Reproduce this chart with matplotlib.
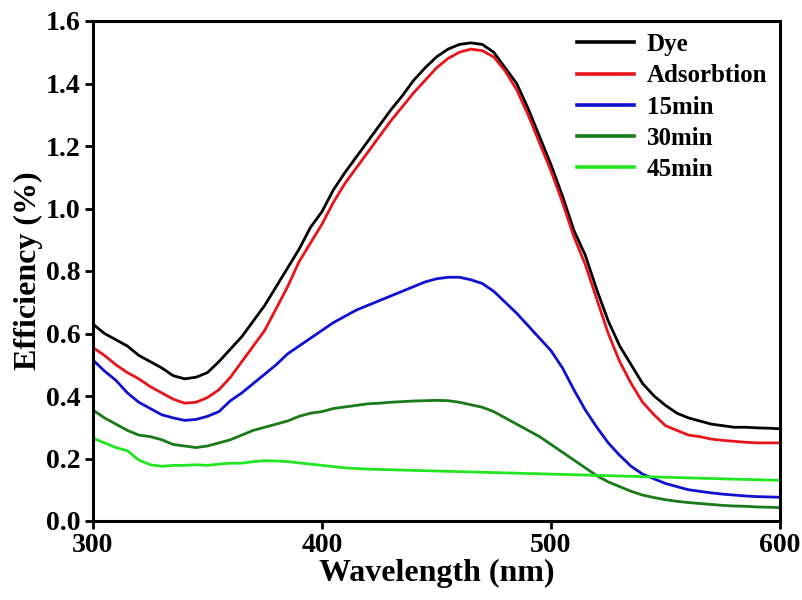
import matplotlib
matplotlib.use("Agg")
import matplotlib.pyplot as plt

wavelength = list(range(300, 605, 5))

dye = [0.63, 0.60, 0.58, 0.56, 0.53, 0.51, 0.49, 0.465, 0.455, 0.46,
       0.475, 0.51, 0.55, 0.59, 0.64, 0.69, 0.75, 0.81, 0.87, 0.94,
       0.99, 1.06, 1.115, 1.165, 1.215, 1.265, 1.315, 1.36, 1.41, 1.45,
       1.485, 1.51, 1.525, 1.53, 1.525, 1.50, 1.45, 1.40, 1.32, 1.23,
       1.14, 1.04, 0.93, 0.85, 0.74, 0.64, 0.56, 0.50, 0.44, 0.40,
       0.37, 0.345, 0.33, 0.32, 0.31, 0.305, 0.30, 0.30, 0.298, 0.297, 0.295]

adsorbtion = [0.555, 0.53, 0.50, 0.475, 0.455, 0.43, 0.41, 0.39, 0.377, 0.38,
              0.395, 0.42, 0.46, 0.51, 0.56, 0.61, 0.68, 0.75, 0.83, 0.89,
              0.95, 1.02, 1.08, 1.13, 1.18, 1.23, 1.28, 1.325, 1.37, 1.41,
              1.45, 1.48, 1.50, 1.51, 1.505, 1.485, 1.44, 1.38, 1.30, 1.21,
              1.12, 1.02, 0.91, 0.82, 0.71, 0.60, 0.51, 0.44, 0.38, 0.34,
              0.305, 0.29, 0.275, 0.27, 0.262, 0.258, 0.255, 0.252, 0.25, 0.25, 0.25]

min15 = [0.515, 0.48, 0.45, 0.41, 0.38, 0.36, 0.34, 0.33, 0.322, 0.325,
         0.335, 0.35, 0.385, 0.41, 0.44, 0.47, 0.50, 0.535, 0.56, 0.585,
         0.61, 0.635, 0.655, 0.675, 0.69, 0.705, 0.72, 0.735, 0.75, 0.765,
         0.775, 0.78, 0.78, 0.772, 0.76, 0.735, 0.70, 0.665, 0.625, 0.585,
         0.545, 0.49, 0.42, 0.355, 0.30, 0.25, 0.21, 0.175, 0.15, 0.135,
         0.12, 0.11, 0.10, 0.095, 0.09, 0.086, 0.083, 0.08, 0.078, 0.077, 0.076]

min30 = [0.355, 0.33, 0.31, 0.29, 0.275, 0.27, 0.26, 0.245, 0.24, 0.235,
         0.24, 0.25, 0.26, 0.275, 0.29, 0.30, 0.31, 0.32, 0.335, 0.345,
         0.35, 0.36, 0.365, 0.37, 0.375, 0.377, 0.38, 0.382, 0.384, 0.385,
         0.386, 0.385, 0.38, 0.372, 0.364, 0.35, 0.33, 0.31, 0.29, 0.27,
         0.245, 0.22, 0.195, 0.17, 0.145, 0.125, 0.11, 0.095, 0.083, 0.075,
         0.068, 0.063, 0.059, 0.056, 0.053, 0.05, 0.048, 0.047, 0.045, 0.044, 0.043]

min45 = [0.265, 0.25, 0.235, 0.225, 0.195, 0.18, 0.175, 0.178, 0.178, 0.18,
         0.178, 0.182, 0.185, 0.185, 0.19, 0.193, 0.192, 0.19, 0.186, 0.182,
         0.178, 0.174, 0.17, 0.168, 0.166, 0.165, 0.164, 0.163, 0.162, 0.161,
         0.16, 0.159, 0.158, 0.157, 0.156, 0.155, 0.154, 0.153, 0.152, 0.151,
         0.15, 0.149, 0.148, 0.147, 0.146, 0.145, 0.144, 0.143, 0.142, 0.141,
         0.14, 0.139, 0.138, 0.137, 0.136, 0.135, 0.134, 0.133, 0.132, 0.131, 0.13]

labels = ["Dye", "Adsorbtion", "15min", "30min", "45min"]
colors = ["#000000", "#e8141a", "#1010d0", "#1a7a1a", "#22e622"]
series = [dye, adsorbtion, min15, min30, min45]

plt.rcParams['font.family'] = ['Liberation Serif', 'DejaVu Serif']
plt.rcParams['font.weight'] = 'bold'

fig = plt.figure(figsize=(8.03, 6.0), dpi=100)
ax = fig.add_axes([93/803, 1 - 521/600, (780 - 93)/803, (521 - 21)/600])

for y, c, lab in zip(series, colors, labels):
    ax.plot(wavelength, y, color=c, lw=2.0, label=lab)

ax.set_xlim(300, 600)
ax.set_ylim(0, 1.6)
ax.set_xticks([300, 400, 500, 600])
ax.set_yticks([0.0, 0.2, 0.4, 0.6, 0.8, 1.0, 1.2, 1.4, 1.6])
ax.set_yticklabels(["0.0", "0.2", "0.4", "0.6", "0.8", "1.0", "1.2", "1.4", "1.6"])
for s in ax.spines.values():
    s.set_linewidth(2.2)
ax.tick_params(direction='out', length=6, width=2, labelsize=20, pad=3)
for lab in ax.get_xticklabels() + ax.get_yticklabels():
    lab.set_fontweight('bold')

ax.set_xlabel("Wavelength (nm)", fontsize=23, fontweight='bold', labelpad=0)
ax.set_ylabel("Efficiency (%)", fontsize=23, fontweight='bold', labelpad=2)

leg = ax.legend(loc='upper left', bbox_to_anchor=(577/803, 1 - 33/600),
                bbox_transform=fig.transFigure, frameon=False,
                prop={'family': 'Liberation Serif', 'weight': 'bold', 'size': 18},
                handlelength=2.3, handletextpad=0.5, labelspacing=0.33,
                borderpad=0, borderaxespad=0)
for line in leg.get_lines():
    line.set_linewidth(2.6)

fig.savefig("out.png", dpi=100)
